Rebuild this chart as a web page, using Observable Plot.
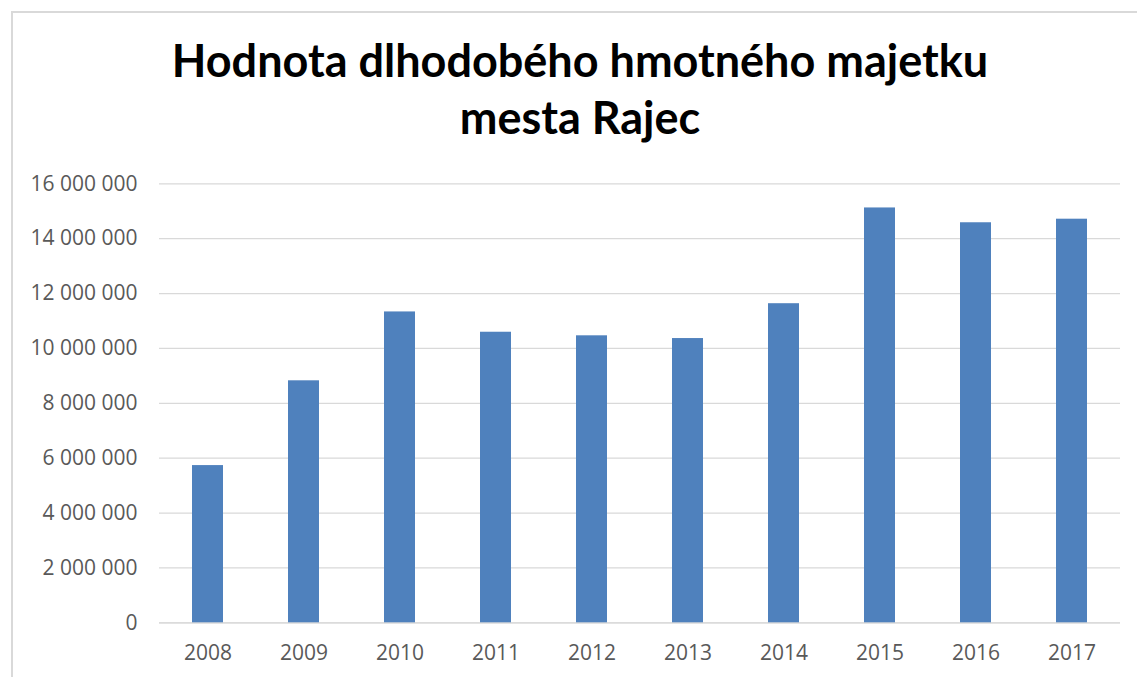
<!DOCTYPE html>
<html><head><meta charset="utf-8">
<script src="https://cdn.jsdelivr.net/npm/d3@7"></script>
<script src="https://cdn.jsdelivr.net/npm/@observablehq/plot@0.6"></script>
<style>
body{margin:0;background:#fff;width:1137px;height:677px;overflow:hidden;position:relative;}
#frame{position:absolute;left:11px;top:11px;width:1140px;height:680px;border:2px solid #d9d9d9;box-sizing:border-box;}
#title{position:absolute;left:0;width:1160px;top:32px;text-align:center;font-family:Lato,"Open Sans",sans-serif;font-weight:bold;font-size:45px;line-height:57px;color:#000;}
#chart{position:absolute;left:0;top:160px;}
</style>
</head><body>
<div id="frame"></div>
<div id="title">Hodnota dlhodobého hmotného majetku<br>mesta Rajec</div>
<div id="chart"></div>
<script>
const years = ["2008","2009","2010","2011","2012","2013","2014","2015","2016","2017"];
const values = [5730000, 8820000, 11330000, 10590000, 10460000, 10360000, 11630000, 15120000, 14580000, 14710000];
const yTicks = [0, 2000000, 4000000, 6000000, 8000000, 10000000, 12000000, 14000000, 16000000];

const data = years.map((y, i) => ({year: y, value: values[i]}));
const fmt = d => d3.format(",")(d).replace(/,/g, " ");

const chart = Plot.plot({
  width: 1137,
  height: 517,
  marginLeft: 159,
  marginRight: 17,
  marginTop: 23.3,
  marginBottom: 54.7,
  style: {fontFamily: "'Open Sans', sans-serif", fontSize: "21px", color: "#595959", background: "transparent"},
  x: {domain: years, paddingInner: 0.68, paddingOuter: 0.34, label: null},
  y: {domain: [0, 16000000], label: null},
  marks: [
    Plot.gridY(yTicks, {stroke: "#d9d9d9", strokeOpacity: 1, strokeWidth: 1.3}),
    Plot.ruleY([0], {stroke: "#d9d9d9", strokeWidth: 1.3}),
    Plot.barY(data, {x: "year", y: "value", fill: "#4f81bd"}),
    Plot.axisY(yTicks, {tickSize: 0, tickPadding: 22, tickFormat: fmt, fontSize: 21, label: null}),
    Plot.axisX({tickSize: 0, tickPadding: 22, fontSize: 21, label: null})
  ]
});
document.getElementById("chart").appendChild(chart);
</script>
</body></html>
